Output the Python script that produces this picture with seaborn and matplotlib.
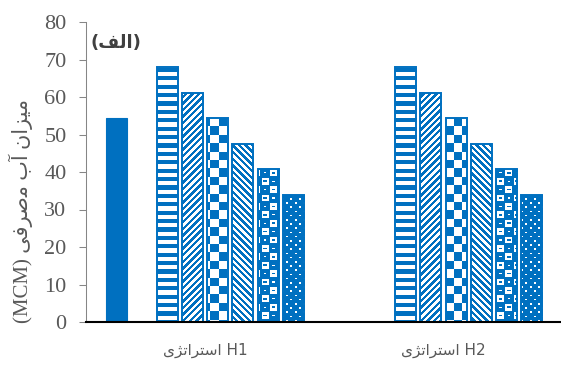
import numpy as np
import pandas as pd
import matplotlib
matplotlib.use("Agg")
import matplotlib.pyplot as plt
import seaborn as sns

# ---- data -------------------------------------------------------------
categories = ["H1", "H2"]
series_order = ["current", "blank", "r0", "r10", "r20", "r30", "r40", "r50"]
current_use = [54.4]            # only the H1 group carries the current-use bar
r0 = [68.0, 68.0]
r10 = [61.2, 61.2]
r20 = [54.4, 54.4]
r30 = [47.6, 47.6]
r40 = [40.8, 40.8]
r50 = [34.0, 34.0]

# Persian strings written in visual order with Arabic presentation forms
word_strategy = "\uFEEF\uFB8B\uFE97\uFE8D\uFEAE\uFE98\uFEB3\uFE8D"          # استراتژی
x_labels = [word_strategy + " " + c for c in categories]
y_label = ("(MCM) \uFEF0\uFED3\uFEAE\uFEBB\uFEE3 \uFE8F\uFE81 "
           "\uFEE5\uFE8D\uFEB0\uFEF4\uFEE3")                              # میزان آب مصرفی (MCM)
panel_tag = "(\uFED2\uFEDF\uFE8D)"                                          # (الف)
y_ticks = [0, 10, 20, 30, 40, 50, 60, 70, 80]

rows = [("H1", "current", v) for v in current_use]
for name, vals in [("r0", r0), ("r10", r10), ("r20", r20),
                   ("r30", r30), ("r40", r40), ("r50", r50)]:
    rows += [(c, name, v) for c, v in zip(categories, vals)]
df = pd.DataFrame(rows, columns=["strategy", "series", "value"])

# ---- figure -----------------------------------------------------------
BLUE = "#0070C0"
W, H = 561, 365
DPI = 100
fig = plt.figure(figsize=(W / DPI, H / DPI), dpi=DPI, facecolor="white")
ax = fig.add_axes([86 / W, 43 / H, 476.6 / W, 300 / H])
ax.set_facecolor("none")

sns.barplot(data=df, x="strategy", y="value", hue="series",
            order=categories, hue_order=series_order,
            palette={s: BLUE for s in series_order}, saturation=1,
            width=0.846, gap=0.17, errorbar=None, legend=False, ax=ax)

# ---- pixel fill patterns (blue on white) ------------------------------
yy, xx = np.mgrid[0:H, 0:W].astype(float)
P = 8.4


def texture(mask):
    img = np.full((H, W, 4), 255, dtype=np.uint8)
    img[mask] = (0, 112, 192, 255)
    return img


cell_par = ((np.floor(xx / P) + np.floor(yy / P)) % 2) == 0
u, v = xx % P, yy % P

weave = np.ones((H, W), dtype=bool)
white_box = cell_par & (u > 0.8) & (u < 7.6) & (v > 0.8) & (v < 7.6)
weave[white_box] = False
weave[cell_par & (u > 2.5) & (u < 6.0) & (v > 3.4) & (v < 5.0)] = True
weave[~cell_par & (u > 3.0) & (u < 5.5) & (v > 3.6) & (v < 4.8)] = False

row = np.floor(yy / 4.2)
dx = (xx + (row % 2) * 4.2) % 8.4
dots = ~((dx < 2.0) & ((yy % 4.2) < 1.6))

fills = {
    "r0": (yy % P) < 4.2,
    "r10": ((xx + yy) % 6.6) < 3.3,
    "r20": cell_par,
    "r30": ((xx - yy) % 6.6) < 3.3,
    "r40": weave,
    "r50": dots,
}

# one container per hue level (empty levels may still get a container)
if len(ax.containers) == len(series_order):
    levels = series_order
else:
    levels = [s for s in series_order if s in set(df["series"])]

for name, cont in zip(levels, ax.containers):
    for bar in cont:
        if name == "current":
            bar.set_facecolor(BLUE)
            bar.set_edgecolor(BLUE)
            bar.set_linewidth(0.8)
        elif name in fills:
            bar.set_facecolor("none")
            bar.set_edgecolor(BLUE)
            bar.set_linewidth(1.4)
            im = fig.figimage(texture(fills[name]), xo=0, yo=0,
                              origin="upper", zorder=-1)
            im.set_clip_path(bar)

# ---- axes styling -----------------------------------------------------
ax.set_xlim(-0.5, 1.5)
ax.set_ylim(0, 80)
ax.set_yticks(y_ticks)
ax.set_yticklabels([str(t) for t in y_ticks], fontsize=16, color="#595959",
                   family=["Liberation Serif", "DejaVu Sans"])
ax.set_xticks([0, 1])
ax.set_xticklabels(x_labels, fontsize=11, color="#595959", family=["DejaVu Sans"])
ax.tick_params(axis="y", length=5, width=0.75, color="#868686", pad=9)
ax.tick_params(axis="x", length=0, pad=15)

for side in ("top", "right"):
    ax.spines[side].set_visible(False)
ax.spines["left"].set_color("#868686")
ax.spines["left"].set_linewidth(0.75)
ax.spines["bottom"].set_color("black")
ax.spines["bottom"].set_linewidth(1.5)
ax.spines["bottom"].set_zorder(5)

ax.set_xlabel("")
ax.set_ylabel(y_label, fontsize=15, color="#595959",
              family=["Liberation Serif", "DejaVu Sans"])
ax.yaxis.set_label_coords(-0.111, 0.37)

ax.text(0.063, 0.93, panel_tag, transform=ax.transAxes, ha="center", va="center",
        fontsize=13, fontweight="bold", color="#404040", family=["DejaVu Sans"])

fig.savefig("out.png", dpi=DPI, facecolor="white")
